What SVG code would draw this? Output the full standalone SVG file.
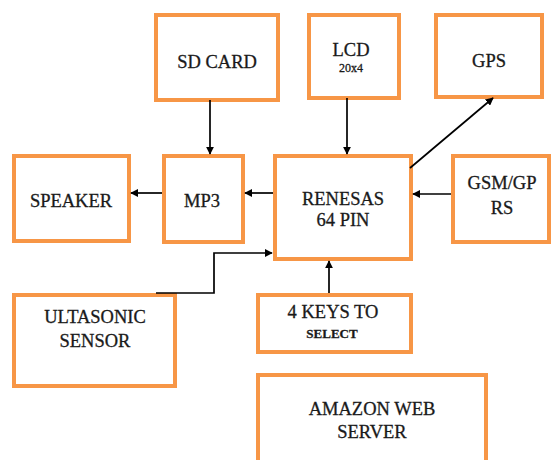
<svg xmlns="http://www.w3.org/2000/svg" width="553" height="460" viewBox="0 0 553 460">
<defs>
<style>
.box{fill:#fff;stroke:#f79646;stroke-width:4}
.t{font-family:"Liberation Serif","DejaVu Serif",serif;font-size:18.5px;fill:#1a1a1a;stroke:#1a1a1a;stroke-width:0.3;text-anchor:middle}
.s{font-size:12px}
.k{font-size:13px;font-weight:bold}
.c{fill:none;stroke:#000;stroke-width:1.7}
</style>
<marker id="ah" viewBox="0 0 10 10" refX="9" refY="5" markerWidth="8" markerHeight="8" markerUnits="userSpaceOnUse" orient="auto">
<path d="M0,0 L10,5 L0,10 z" fill="#000"/>
</marker>
</defs>
<rect width="553" height="460" fill="#fff"/>
<g id="sdcard"><rect class="box" x="156" y="15" width="122" height="85"/><text class="t" x="217" y="68">SD CARD</text></g>
<g id="lcd"><rect class="box" x="309" y="15" width="90" height="83"/><text class="t" x="351" y="56">LCD</text><text class="t s" x="351" y="72">20x4</text></g>
<g id="gps"><rect class="box" x="436" y="15" width="106" height="82"/><text class="t" x="489" y="67">GPS</text></g>
<g id="speaker"><rect class="box" x="14" y="156" width="115" height="85"/><text class="t" x="71" y="207">SPEAKER</text></g>
<g id="mp3"><rect class="box" x="164" y="156" width="79" height="86"/><text class="t" x="202" y="207">MP3</text></g>
<g id="renesas"><rect class="box" x="275" y="156" width="136" height="103"/><text class="t" x="343" y="205">RENESAS</text><text class="t" x="343" y="226">64 PIN</text></g>
<g id="gsm"><rect class="box" x="453" y="156" width="96" height="86"/><text class="t" x="502" y="189">GSM/GP</text><text class="t" x="502" y="214">RS</text></g>
<g id="ultrasonic"><rect class="box" x="14" y="295" width="161" height="91"/><text class="t" x="95" y="323">ULTASONIC</text><text class="t" x="95" y="347">SENSOR</text></g>
<g id="keys"><rect class="box" x="258" y="295" width="153" height="57"/><text class="t" x="333" y="318">4 KEYS TO</text><text class="t k" x="332" y="338">SELECT</text></g>
<g id="aws"><rect class="box" x="258" y="375" width="228" height="92"/><text class="t" x="372" y="415">AMAZON WEB</text><text class="t" x="372" y="438">SERVER</text></g>
<g id="connectors">
<line class="c" x1="210" y1="100" x2="210" y2="154" marker-end="url(#ah)"/>
<line class="c" x1="347" y1="98" x2="347" y2="154" marker-end="url(#ah)"/>
<line class="c" x1="410" y1="168" x2="493" y2="98" marker-end="url(#ah)"/>
<line class="c" x1="273" y1="193" x2="245" y2="193" marker-end="url(#ah)"/>
<line class="c" x1="162" y1="193" x2="131" y2="193" marker-end="url(#ah)"/>
<line class="c" x1="451" y1="194" x2="413" y2="194" marker-end="url(#ah)"/>
<polyline class="c" points="156,293 214,293 214,253 272,253" marker-end="url(#ah)"/>
<line class="c" x1="329" y1="293" x2="329" y2="261" marker-end="url(#ah)"/>
</g>
</svg>
